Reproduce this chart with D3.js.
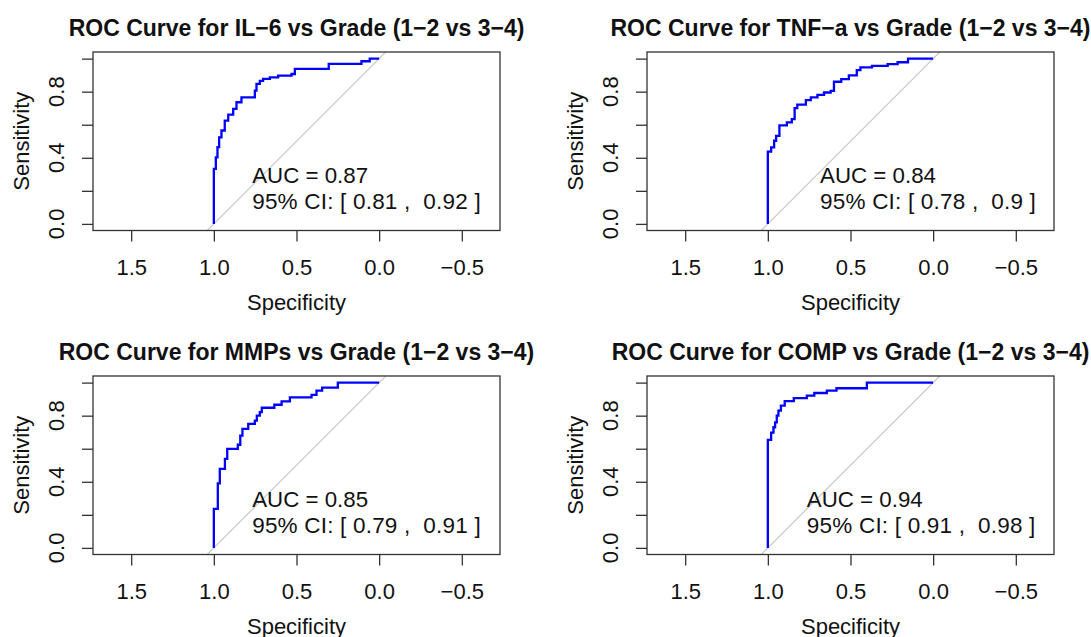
<!DOCTYPE html>
<html lang="en">
<head>
<meta charset="utf-8">
<title>ROC curves by grade</title>
<script src="https://cdn.jsdelivr.net/npm/d3@7"></script>
<style>
  body { margin: 0; background: #fff; }
  text { font-family: "Liberation Sans", Arial, sans-serif; fill: #111; }
</style>
</head>
<body>
<script>
// chart data
const titles = [
  "ROC Curve for IL\u22126 vs Grade (1\u22122 vs 3\u22124)",
  "ROC Curve for TNF\u2212a vs Grade (1\u22122 vs 3\u22124)",
  "ROC Curve for MMPs vs Grade (1\u22122 vs 3\u22124)",
  "ROC Curve for COMP vs Grade (1\u22122 vs 3\u22124)"
]
const aucValues = ["0.87", "0.84", "0.85", "0.94"]
const ciLow = ["0.81", "0.78", "0.79", "0.91"]
const ciHigh = ["0.92", "0.9", "0.91", "0.98"]

const xTicks = [1.5, 1.0, 0.5, 0.0, -0.5]
const yTicks = [0, 0.2, 0.4, 0.6, 0.8, 1.0]
const yTickLabels = [0, 0.4, 0.8]

// step points (specificity, sensitivity)
const il6Spec = [1.0, 1.0, 0.988, 0.978, 0.968, 0.954, 0.934, 0.913, 0.883, 0.863, 0.833, 0.752, 0.742, 0.722, 0.702, 0.661, 0.611, 0.530, 0.510, 0.305, 0.107, 0.057, 0.0]
const il6Sens = [0.0, 0.333, 0.403, 0.464, 0.524, 0.565, 0.625, 0.661, 0.696, 0.736, 0.766, 0.806, 0.847, 0.865, 0.877, 0.887, 0.897, 0.907, 0.938, 0.968, 0.984, 1.0, 1.0]

const tnfSpec = [1.0, 1.0, 0.980, 0.962, 0.950, 0.930, 0.885, 0.855, 0.838, 0.822, 0.770, 0.740, 0.700, 0.660, 0.620, 0.600, 0.556, 0.510, 0.462, 0.440, 0.370, 0.275, 0.215, 0.152, 0.0]
const tnfSens = [0.0, 0.437, 0.463, 0.503, 0.533, 0.596, 0.614, 0.634, 0.700, 0.721, 0.749, 0.765, 0.781, 0.795, 0.805, 0.860, 0.876, 0.898, 0.930, 0.947, 0.956, 0.967, 0.978, 1.0, 1.0]

const mmpSpec = [1.0, 1.0, 0.976, 0.964, 0.933, 0.919, 0.855, 0.840, 0.827, 0.792, 0.752, 0.740, 0.722, 0.710, 0.634, 0.590, 0.540, 0.409, 0.379, 0.345, 0.250, 0.0]
const mmpSens = [0.0, 0.236, 0.390, 0.478, 0.538, 0.599, 0.624, 0.679, 0.720, 0.750, 0.770, 0.800, 0.822, 0.848, 0.866, 0.886, 0.911, 0.926, 0.951, 0.970, 1.0, 1.0]

const compSpec = [1.0, 1.0, 0.980, 0.966, 0.956, 0.946, 0.936, 0.921, 0.898, 0.843, 0.764, 0.719, 0.643, 0.585, 0.401, 0.0]
const compSens = [0.0, 0.654, 0.697, 0.730, 0.760, 0.800, 0.830, 0.861, 0.888, 0.906, 0.921, 0.937, 0.951, 0.966, 1.0, 1.0]

const specs = [il6Spec, tnfSpec, mmpSpec, compSpec]
const senss = [il6Sens, tnfSens, mmpSens, compSens]

// layout
const W = 1091, H = 637
const boxLefts = [93, 647]
const boxTops = [52, 376]
const boxW = 407, boxH = 178.5
const labelX = [0.768, 0.684, 0.768, 0.764]
const labelY = 0.25

const svg = d3.select("body").append("svg")
  .attr("width", W)
  .attr("height", H)

titles.forEach(function (title, i) {
  const left = boxLefts[i % 2]
  const top = boxTops[Math.floor(i / 2)]
  const right = left + boxW
  const bottom = top + boxH

  const x = d3.scaleLinear().domain([1.731, -0.731]).range([left, right])
  const y = d3.scaleLinear().domain([-0.04, 1.04]).range([bottom, top])

  const g = svg.append("g")

  g.append("clipPath").attr("id", "clip" + i)
    .append("rect")
    .attr("x", left).attr("y", top)
    .attr("width", boxW).attr("height", boxH)

  // identity line
  g.append("line")
    .attr("clip-path", "url(#clip" + i + ")")
    .attr("x1", x(1.731)).attr("y1", y(1 - 1.731))
    .attr("x2", x(-0.731)).attr("y2", y(1 + 0.731))
    .attr("stroke", "#c4c4c4")
    .attr("stroke-width", 1.1)

  // roc curve
  const pts = specs[i].map(function (s, k) { return [s, senss[i][k]] })
  const line = d3.line()
    .x(function (d) { return x(d[0]) })
    .y(function (d) { return y(d[1]) })
    .curve(d3.curveStepAfter)
  g.append("path")
    .attr("d", line(pts))
    .attr("fill", "none")
    .attr("stroke", "#0000ff")
    .attr("stroke-width", 2.3)

  // box
  g.append("rect")
    .attr("x", left).attr("y", top)
    .attr("width", boxW).attr("height", boxH)
    .attr("fill", "none")
    .attr("stroke", "#333")
    .attr("stroke-width", 1.3)

  // x axis
  const xAxis = d3.axisBottom(x)
    .tickValues(xTicks)
    .tickSize(11)
    .tickPadding(0)
    .tickFormat(d3.format(".1f"))
  const xa = g.append("g")
    .attr("transform", "translate(0," + bottom + ")")
    .call(xAxis)
  xa.select(".domain").remove()
  xa.selectAll(".tick line").attr("stroke", "#333").attr("stroke-width", 1.3)
  xa.selectAll(".tick text")
    .attr("y", 44).attr("dy", null)
    .attr("font-size", 22)
    .attr("font-family", "Liberation Sans, Arial, sans-serif")
    .attr("fill", "#111")

  // y axis ticks
  const ya = g.append("g")
    .attr("transform", "translate(" + left + ",0)")
    .call(d3.axisLeft(y).tickValues(yTicks).tickSize(11).tickFormat(""))
  ya.select(".domain").remove()
  ya.selectAll(".tick line").attr("stroke", "#333").attr("stroke-width", 1.3)

  g.selectAll(".ylab")
    .data(yTickLabels)
    .enter()
    .append("text")
    .attr("transform", function (d) {
      return "translate(" + (left - 29.5) + "," + y(d) + ") rotate(-90)"
    })
    .attr("text-anchor", "middle")
    .attr("font-size", 22)
    .text(d3.format(".1f"))

  // axis titles
  g.append("text")
    .attr("x", (left + right) / 2)
    .attr("y", bottom + 79)
    .attr("text-anchor", "middle")
    .attr("font-size", 22)
    .text("Specificity")

  g.append("text")
    .attr("transform", "translate(" + (left - 64.5) + "," + (top + bottom) / 2 + ") rotate(-90)")
    .attr("text-anchor", "middle")
    .attr("font-size", 22)
    .text("Sensitivity")

  // main title
  g.append("text")
    .attr("x", (left + right) / 2)
    .attr("y", top - 16)
    .attr("text-anchor", "middle")
    .attr("font-size", 23)
    .attr("font-weight", "bold")
    .text(title)

  // auc text
  g.append("text")
    .attr("x", x(labelX[i]))
    .attr("y", y(labelY))
    .attr("font-size", 22.3)
    .text("AUC = " + aucValues[i])

  g.append("text")
    .attr("x", x(labelX[i]))
    .attr("y", y(labelY) + 26.5)
    .attr("font-size", 22.5)
    .attr("letter-spacing", 0.2)
    .style("white-space", "pre")
    .text("95% CI: [ " + ciLow[i] + " ,  " + ciHigh[i] + " ]")
})
</script>
</body>
</html>
